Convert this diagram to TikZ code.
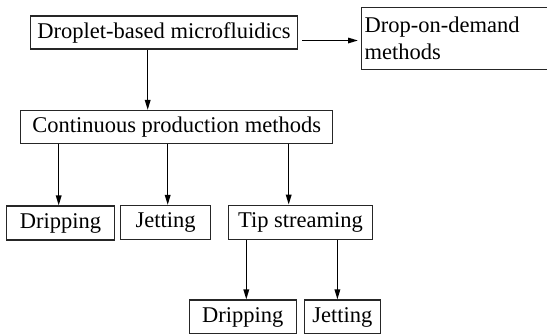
\documentclass[tikz,border=0pt]{standalone}
\usepackage{fontspec}
\setmainfont{Liberation Serif}
\usetikzlibrary{arrows.meta}
\begin{document}
\begin{tikzpicture}[x=1pt,y=-1pt,
  box/.style={draw=black!85, line width=1.1pt, inner sep=0pt, font=\fontsize{22.5}{27}\selectfont},
  arr/.style={line width=1.5pt, -{Triangle[length=10pt,width=5.5pt]}}]
\useasboundingbox (0,0) rectangle (547,333);
\clip (0,0) rectangle (547,333);
\node[box, minimum width=267pt, minimum height=33pt] (dbm) at (164,32.5) {Droplet-based microfluidics};
\node[box, anchor=north west, minimum width=200pt, minimum height=62pt, text width=194pt, align=left, inner xsep=3pt] (dod) at (361,7) {Drop-on-demand\\methods};
\node[box, minimum width=312pt, minimum height=33pt] (cpm) at (176.7,127) {Continuous production methods};
\node[box, minimum width=107.6pt, minimum height=34pt] (drip) at (60.5,223) {Dripping};
\node[box, minimum width=90pt, minimum height=34pt] (jet) at (165.7,222.5) {Jetting};
\node[box, minimum width=143.6pt, minimum height=34pt] (tip) at (300.5,222.2) {Tip streaming};
\node[box, minimum width=107.3pt, minimum height=34pt] (drip2) at (242.7,317) {Dripping};
\node[box, minimum width=75.3pt, minimum height=34pt] (jet2) at (342.4,317) {Jetting};
\draw[arr] ([shift={(4pt,-8pt)}]dbm.east) -- ([shift={(-3pt,-8pt)}]dbm.east -| dod.west);
\draw[arr] ([xshift=-16.3pt]dbm.south) -- ([xshift=-16.3pt]dbm.south |- cpm.north);
\draw[arr] ([xshift=-1.8pt]cpm.south -| drip.north) -- ([xshift=-1.8pt]drip.north);
\draw[arr] ([xshift=2pt]cpm.south -| jet.north) -- ([xshift=2pt]jet.north);
\draw[arr] ([xshift=-11.8pt]cpm.south -| tip.north) -- ([xshift=-11.8pt]tip.north);
\draw[arr] ([xshift=3.6pt]tip.south -| drip2.north) -- ([xshift=3.6pt]drip2.north);
\draw[arr] ([xshift=-5pt]tip.south -| jet2.north) -- ([xshift=-5pt]jet2.north);
\end{tikzpicture}
\end{document}
